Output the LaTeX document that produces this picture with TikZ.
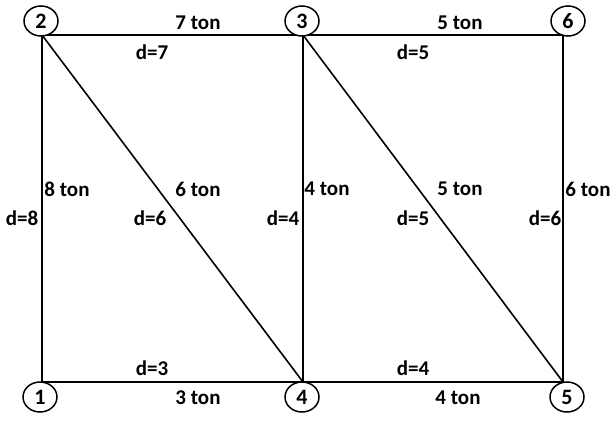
\documentclass[tikz,border=0pt]{standalone}
\usepackage{fontspec}
\setmainfont{Carlito}
\usepackage{tikz}
\usetikzlibrary{calc,shapes.geometric}

\tikzset{
  vnum/.style={draw,ellipse,line width=1.5pt,minimum width=34pt,minimum height=30pt,inner sep=0pt,font=\fontsize{22}{24}\selectfont\bfseries},
  lbl/.style={font=\fontsize{21}{24}\selectfont\bfseries,inner sep=0pt},
  edge/.style={line width=1.6pt}
}

\begin{document}
\begin{tikzpicture}[x=1pt,y=-1pt]
    \useasboundingbox (0,0) rectangle (612,420);
    % corners of the network
    \coordinate (v1) at (42,382);
    \coordinate (v2) at (42,35);
    \coordinate (v3) at (303,35);
    \coordinate (v4) at (303,382);
    \coordinate (v5) at (563,382);
    \coordinate (v6) at (563,35);
    \draw[edge] (v1) -- (v2) -- (v3) -- (v4) -- (v1);
    \draw[edge] (v2) -- (v4) -- (v5) -- (v6) -- (v3) -- (v5);
    % numbered circles
    \node[vnum,fill=white] (n1) at (40,397) {1};
    \node[vnum,fill=white] (n2) at (41,21) {2};
    \node[vnum,fill=white] (n3) at (302,21) {3};
    \node[vnum,fill=white] (n4) at (302,397) {4};
    \node[vnum,fill=white] (n5) at (567,397) {5};
    \node[vnum,fill=white] (n6) at (568,21) {6};
    % weights and distances
    \node[lbl] (t23) at (198,23) {7 ton};
    \node[lbl] (d23) at (152,52) {d=7};
    \node[lbl] (t36) at (460,23) {5 ton};
    \node[lbl] (d36) at (413,52) {d=5};
    \node[lbl] (t12) at (67,189) {8 ton};
    \node[lbl] (d12) at (22,218) {d=8};
    \node[lbl] (t24) at (198,189) {6 ton};
    \node[lbl] (d24) at (150,218) {d=6};
    \node[lbl] (t34) at (327,189) {4 ton};
    \node[lbl] (d34) at (283,218) {d=4};
    \node[lbl] (t35) at (460,189) {5 ton};
    \node[lbl] (d35) at (413,218) {d=5};
    \node[lbl] (t56) at (588,189) {6 ton};
    \node[lbl] (d56) at (545,218) {d=6};
    \node[lbl] (d14) at (152,368) {d=3};
    \node[lbl] (t14) at (198,398) {3 ton};
    \node[lbl] (d45) at (413,368) {d=4};
    \node[lbl] (t45) at (458,398) {4 ton};
\end{tikzpicture}
\end{document}
